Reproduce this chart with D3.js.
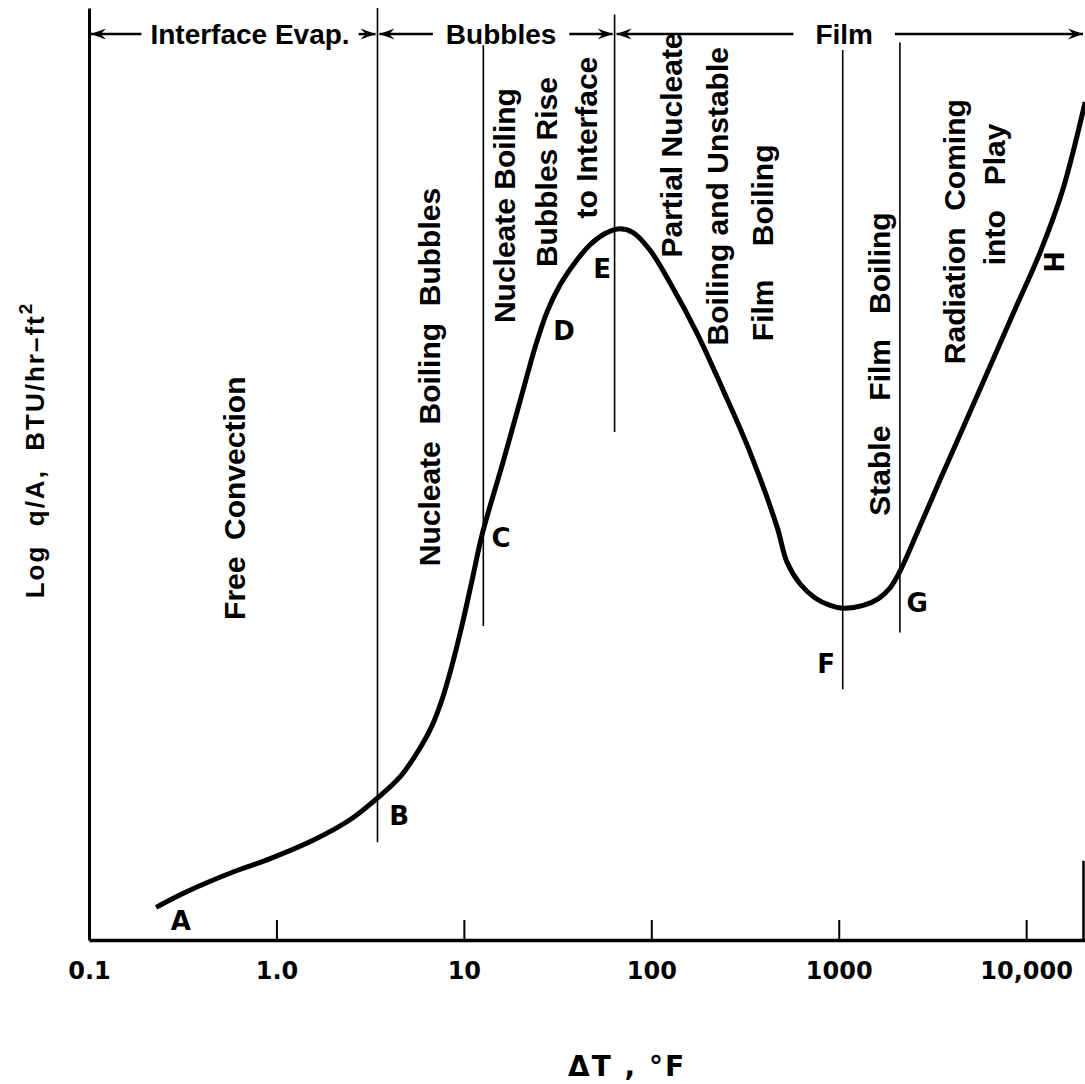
<!DOCTYPE html>
<html>
<head>
<meta charset="utf-8">
<script src="https://cdn.jsdelivr.net/npm/d3@7"></script>
<style>
  body { margin: 0; background: #fff; }
  svg { display: block; }
  text { font-family: "Liberation Sans", Arial, sans-serif; fill: #000; white-space: pre; }
</style>
</head>
<body>
<svg id="chart"></svg>
<script>
// boiling curve: log q/A (arbitrary units) against ΔT (°F, log scale)
const deltaT = [0.228, 0.317, 0.587, 0.891, 1.568, 2.47, 3.442, 4.566, 5.839, 6.768, 7.648, 8.651,
  9.781, 11.06, 12.51, 16.19, 20.7, 23.99, 27.79, 32.62, 39.21, 47.14, 56.68, 66.5, 79.96, 98.54,
  126.0, 175.5, 241.6, 336.7, 469.1, 530.5, 622.4, 748.3, 899.8, 1056, 1350, 1623, 1881, 2126,
  2620, 3476, 4612, 6427, 8736, 11880, 15570, 20640];
const logFlux = [0.35, 0.50, 0.73, 0.86, 1.07, 1.29, 1.52, 1.75, 2.06, 2.30, 2.58, 2.95,
  3.38, 3.86, 4.35, 5.13, 5.90, 6.36, 6.74, 7.03, 7.27, 7.46, 7.58, 7.63, 7.59, 7.40,
  7.05, 6.51, 5.90, 5.23, 4.43, 4.05, 3.82, 3.67, 3.59, 3.56, 3.59, 3.66, 3.78, 3.96,
  4.37, 4.94, 5.50, 6.16, 6.77, 7.38, 8.03, 8.99];

const xTicks = [0.1, 1, 10, 100, 1000, 10000];
const xTickLabels = ["0.1", "1.0", "10", "100", "1000", "10,000"];

// regime boundaries (vertical lines)
const dividerAt = [3.46, 12.7, 63.7, 1050, 2120];
const dividerTop = [10.0, 9.6, 9.93, 9.55, 9.63];
const dividerBottom = [1.05, 3.37, 5.45, 2.69, 3.30];

// header arrows
const headerText = ["Interface Evap.", "Bubbles", "Film"];
const headerBounds = [0.1, 3.46, 63.7, 20600];
const headerTextAt = [0.723, 15.8, 1069];
const headerLevel = 9.72;

// rotated regime descriptions
const regionText = ["Free  Convection", "Nucleate  Boiling  Bubbles", "Nucleate Boiling", "Bubbles Rise",
  "to Interface", "Partial Nucleate", "Boiling and Unstable", "Film    Boiling", "Stable   Film   Boiling",
  "Radiation  Coming", "into   Play"];
const regionAt = [0.68, 7.46, 18.8, 31.4, 51.4, 146, 257, 447, 1881, 4726, 7727];
const regionLevel = [4.74, 6.04, 7.88, 8.24, 8.61, 8.53, 7.98, 7.48, 6.18, 7.60, 8.00];

// point letters on the curve
const pointNames = ["A", "B", "C", "D", "E", "F", "G", "H"];
const pointAt = [0.309, 4.51, 15.8, 34.2, 54.6, 856, 2620, 14280];
const pointLevel = [0.107, 1.234, 4.217, 6.438, 7.103, 2.865, 3.519, 7.275];

let width = 1085;
let height = 1084;

let svg = d3.select("#chart")
  .attr("width", width)
  .attr("height", height);

let x = d3.scaleLog()
  .domain([0.1, 20600])
  .range([89, 1085]);

let y = d3.scaleLinear()
  .domain([0, 10])
  .range([940, 8]);

// axes
let axisX = d3.axisBottom(x)
  .tickValues(xTicks)
  .tickFormat((d, i) => xTickLabels[i])
  .tickSizeInner(-20)
  .tickSizeOuter(0)
  .tickPadding(22);

let gx = svg.append("g")
  .attr("transform", `translate(0, ${y(0)})`)
  .call(axisX);
gx.select(".domain").attr("stroke-width", 3.5).attr("stroke", "#000");
gx.selectAll(".tick line").attr("stroke-width", 2).attr("stroke", "#000");
gx.selectAll(".tick text")
  .style("font-family", "'DejaVu Sans', sans-serif")
  .style("font-weight", "bold")
  .style("font-size", "24px");
gx.selectAll(".tick").filter(d => d === 0.1).select("line").remove();

let axisY = d3.axisLeft(y).tickValues([]).tickSizeOuter(0);
let gy = svg.append("g")
  .attr("transform", `translate(${x(0.1)}, 0)`)
  .call(axisY);
gy.select(".domain").attr("stroke-width", 3).attr("stroke", "#000");

// short right edge line at the end of the x axis
svg.append("line")
  .attr("x1", x(20600) - 1.5).attr("x2", x(20600) - 1.5)
  .attr("y1", y(0.85)).attr("y2", y(0))
  .attr("stroke", "#000").attr("stroke-width", 2.5);

// divider lines
svg.selectAll(".divider")
  .data(dividerAt)
  .enter()
  .append("line")
  .attr("class", "divider")
  .attr("x1", d => x(d)).attr("x2", d => x(d))
  .attr("y1", (d, i) => y(dividerTop[i]))
  .attr("y2", (d, i) => y(dividerBottom[i]))
  .attr("stroke", "#000")
  .attr("stroke-width", 1.6);

// header arrows
let hy = y(headerLevel);
let header = svg.append("g");
let gaps = [9, 13, 22];

function arrowHead(tipX, dir) {
  let len = 15, half = 5.5;
  header.append("path")
    .attr("d", `M${tipX},${hy} L${tipX - dir * len},${hy - half} L${tipX - dir * len * 0.65},${hy} L${tipX - dir * len},${hy + half} Z`)
    .attr("fill", "#000");
}

headerText.forEach((label, i) => {
  let x0 = x(headerBounds[i]) + 2;
  let x1 = x(headerBounds[i + 1]) - 2;
  let tx = x(headerTextAt[i]);
  let t = header.append("text")
    .attr("x", tx)
    .attr("y", hy + 10)
    .attr("text-anchor", "middle")
    .style("font-size", "28px")
    .style("font-weight", "bold")
    .text(label);
  let w = t.node().getComputedTextLength();
  header.append("line")
    .attr("x1", x0).attr("x2", tx - w / 2 - gaps[i])
    .attr("y1", hy).attr("y2", hy)
    .attr("stroke", "#000").attr("stroke-width", 2.5);
  header.append("line")
    .attr("x1", tx + w / 2 + gaps[i]).attr("x2", x1)
    .attr("y1", hy).attr("y2", hy)
    .attr("stroke", "#000").attr("stroke-width", 2.5);
  arrowHead(x0, -1);
  arrowHead(x1, 1);
});

// curve
let curveData = deltaT.map((d, i) => [d, logFlux[i]]);
let line = d3.line()
  .x(d => x(d[0]))
  .y(d => y(d[1]))
  .curve(d3.curveCatmullRom.alpha(0.5));

svg.append("path")
  .datum(curveData)
  .attr("d", line)
  .attr("fill", "none")
  .attr("stroke", "#000")
  .attr("stroke-width", 5)
  .attr("stroke-linejoin", "round");

// region descriptions (rotated)
regionText.forEach((label, i) => {
  svg.append("text")
    .attr("transform", `translate(${x(regionAt[i])}, ${y(regionLevel[i])}) rotate(-90)`)
    .attr("text-anchor", "middle")
    .style("font-size", "30px")
    .style("font-weight", "bold")
    .text(label);
});

// point letters
pointNames.forEach((name, i) => {
  let t = svg.append("text")
    .attr("text-anchor", "middle")
    .style("font-family", "'DejaVu Sans', sans-serif")
    .style("font-weight", "bold")
    .style("font-size", "26px")
    .text(name);
  if (name === "H") {
    t.attr("dominant-baseline", "central")
      .attr("transform", `translate(${x(pointAt[i])}, ${y(pointLevel[i])}) rotate(-90)`);
  } else {
    t.attr("x", x(pointAt[i])).attr("y", y(pointLevel[i]));
  }
});

// axis titles
let yTitle = svg.append("text")
  .attr("transform", "translate(44, 450) rotate(-90)")
  .attr("text-anchor", "middle")
  .style("font-size", "26px")
  .style("font-weight", "bold")
  .style("letter-spacing", "2px");
yTitle.append("tspan").text("Log  q/A,  BTU/hr\u2013ft");
yTitle.append("tspan").attr("dy", -12).style("font-size", "19px").text("2");

svg.append("text")
  .attr("x", 627)
  .attr("y", 1076)
  .attr("text-anchor", "middle")
  .style("font-family", "'DejaVu Sans', sans-serif")
  .style("font-weight", "bold")
  .style("font-size", "28px")
  .style("letter-spacing", "2px")
  .text("\u0394T , \u00b0F");
</script>
</body>
</html>
